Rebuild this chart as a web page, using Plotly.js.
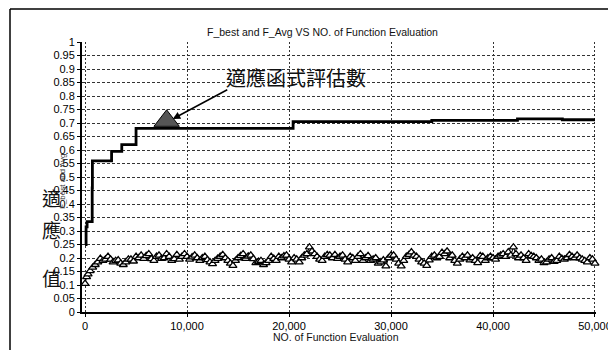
<!DOCTYPE html>
<html>
<head>
<meta charset="utf-8">
<script src="https://cdn.plot.ly/plotly-3.0.1.min.js"></script>
<style>html,body{margin:0;padding:0;background:#fff;}#chart{width:608px;height:350px;}</style>
</head>
<body>
<div id="chart"></div>
<script>
// F_best (best fitness so far) step curve
var bestX = [0, 100, 200, 700, 720, 2600, 3600, 5000, 20400, 34000, 42400, 46800, 50000];
var bestY = [0.25, 0.315, 0.335, 0.46, 0.56, 0.595, 0.62, 0.68, 0.705, 0.71, 0.715, 0.712, 0.712];

// F_avg (average fitness) noisy curve
var avgX = [0, 150, 300, 500, 750, 1000, 1250, 1500, 1750,
  2000, 2250, 2500, 2750, 3000, 3250, 3500, 3750,
  4000, 4250, 4500, 4750, 5000, 5250, 5500, 5750,
  6000, 6250, 6500, 6750, 7000, 7250, 7500, 7750,
  8000, 8250, 8500, 8750, 9000, 9250, 9500, 9750,
  10000, 10250, 10500, 10750, 11000, 11250, 11500, 11750,
  12000, 12250, 12500, 12750, 13000, 13250, 13500, 13750,
  14000, 14250, 14500, 14750, 15000, 15250, 15500, 15750,
  16000, 16250, 16500, 16750, 17000, 17250, 17500, 17750,
  18000, 18250, 18500, 18750, 19000, 19250, 19500, 19750,
  20000, 20250, 20500, 20750, 21000, 21250, 21500, 21750,
  22000, 22250, 22500, 22750, 23000, 23250, 23500, 23750,
  24000, 24250, 24500, 24750, 25000, 25250, 25500, 25750,
  26000, 26250, 26500, 26750, 27000, 27250, 27500, 27750,
  28000, 28250, 28500, 28750, 29000, 29250, 29500, 29750,
  30000, 30250, 30500, 30750, 31000, 31250, 31500, 31750,
  32000, 32250, 32500, 32750, 33000, 33250, 33500, 33750,
  34000, 34250, 34500, 34750, 35000, 35250, 35500, 35750,
  36000, 36250, 36500, 36750, 37000, 37250, 37500, 37750,
  38000, 38250, 38500, 38750, 39000, 39250, 39500, 39750,
  40000, 40250, 40500, 40750, 41000, 41250, 41500, 41750,
  42000, 42250, 42500, 42750, 43000, 43250, 43500, 43750,
  44000, 44250, 44500, 44750, 45000, 45250, 45500, 45750,
  46000, 46250, 46500, 46750, 47000, 47250, 47500, 47750,
  48000, 48250, 48500, 48750, 49000, 49250, 49500, 49750,
  50000];
var avgY = [0.105, 0.13, 0.14, 0.152, 0.165, 0.175, 0.185, 0.198, 0.19,
  0.195, 0.205, 0.195, 0.185, 0.19, 0.192, 0.18, 0.175,
  0.185, 0.195, 0.195, 0.188, 0.205, 0.2, 0.21, 0.198,
  0.208, 0.215, 0.197, 0.19, 0.205, 0.21, 0.198, 0.2,
  0.215, 0.205, 0.19, 0.197, 0.212, 0.195, 0.205, 0.215,
  0.205, 0.195, 0.203, 0.21, 0.2, 0.19, 0.2, 0.205,
  0.193, 0.185, 0.178, 0.19, 0.198, 0.205, 0.212, 0.2,
  0.19, 0.18, 0.172, 0.19, 0.2, 0.208, 0.215, 0.198,
  0.206, 0.21, 0.197, 0.182, 0.187, 0.19, 0.175, 0.182,
  0.19, 0.205, 0.198, 0.19, 0.205, 0.2, 0.207, 0.21,
  0.195, 0.185, 0.2, 0.195, 0.185, 0.2, 0.21, 0.215,
  0.24, 0.225, 0.215, 0.205, 0.195, 0.19, 0.205, 0.212,
  0.21, 0.2, 0.212, 0.198, 0.205, 0.21, 0.195, 0.185,
  0.205, 0.2, 0.19, 0.205, 0.215, 0.19, 0.2, 0.208,
  0.19, 0.195, 0.2, 0.18, 0.185, 0.192, 0.17, 0.2,
  0.21, 0.21, 0.195, 0.18, 0.17, 0.19, 0.205, 0.212,
  0.222, 0.21, 0.205, 0.195, 0.185, 0.18, 0.172, 0.192,
  0.205, 0.21, 0.2, 0.205, 0.22, 0.215, 0.225, 0.2,
  0.21, 0.19, 0.18, 0.195, 0.205, 0.2, 0.21, 0.192,
  0.2, 0.19, 0.182, 0.208, 0.205, 0.19, 0.2, 0.205,
  0.2, 0.195, 0.205, 0.21, 0.215, 0.205, 0.222, 0.21,
  0.24, 0.215, 0.2, 0.21, 0.2, 0.19, 0.215, 0.208,
  0.205, 0.2, 0.19, 0.195, 0.182, 0.185, 0.195, 0.2,
  0.187, 0.19, 0.205, 0.198, 0.195, 0.2, 0.212, 0.205,
  0.2, 0.21, 0.2, 0.195, 0.19, 0.185, 0.2, 0.195,
  0.18];

// highlighted marker pointed at by the annotation
var markX = [8000];
var markY = [0.708];

var xTicks = [0, 10000, 20000, 30000, 40000, 50000];
var xTickText = ["0", "10,000", "20,000", "30,000", "40,000", "50,000"];

var chartTitle = "F_best and F_Avg VS NO. of Function Evaluation";
var xTitle = "NO. of Function Evaluation";
var yTitle = "F_best and Avg";
var noteText = "適應函式評估數";
var sideChars = ["適", "應", "值"];

// pixel helpers for paper placement (plot area: x 82..596, y 42..312)
function px(p) { return (p - 82) / 514; }
function py(p) { return (312 - p) / 270; }

var traces = [
  {
    x: avgX, y: avgY, type: "scatter", mode: "lines+markers",
    line: {color: "#000", width: 1},
    marker: {symbol: "triangle-up", size: 7, color: "#fff", line: {color: "#000", width: 1.3}},
    hoverinfo: "skip", cliponaxis: false
  },
  {
    x: bestX, y: bestY, type: "scatter", mode: "lines",
    line: {color: "#000", width: 2.8, shape: "hv"},
    hoverinfo: "skip"
  },
  {
    x: markX, y: markY, type: "scatter", mode: "markers",
    marker: {symbol: "triangle-up", size: 22, color: "#555", line: {color: "#000", width: 1}},
    hoverinfo: "skip"
  }
];

var annotations = [
  {xref: "paper", yref: "paper", x: px(322), y: py(32), text: chartTitle, showarrow: false,
   font: {family: "Liberation Sans, Arial, sans-serif", size: 10.5, color: "#111"}, xanchor: "center", yanchor: "middle"},
  {xref: "paper", yref: "paper", x: px(336), y: py(337), text: xTitle, showarrow: false,
   font: {family: "Liberation Sans, Arial, sans-serif", size: 10.5, color: "#111"}, xanchor: "center", yanchor: "middle"},
  {xref: "paper", yref: "paper", x: px(62), y: py(182), text: yTitle, showarrow: false, textangle: -90,
   font: {family: "Liberation Sans, Arial, sans-serif", size: 8, color: "#333"}, xanchor: "center", yanchor: "middle"},
  {xref: "paper", yref: "paper", x: px(296), y: py(77), text: noteText, showarrow: false,
   font: {family: "Noto Sans CJK TC, sans-serif", size: 20, color: "#111"}, xanchor: "center", yanchor: "middle"},
  {x: 8600, y: 0.715, xref: "x", yref: "y", text: "", showarrow: true, ax: 56, ay: -30,
   arrowhead: 2, arrowsize: 1, arrowwidth: 1.5, arrowcolor: "#000"},
  {xref: "paper", yref: "paper", x: px(40), y: py(197), text: sideChars[0], showarrow: false,
   font: {family: "Noto Sans CJK TC, sans-serif", size: 19, color: "#111"}},
  {xref: "paper", yref: "paper", x: px(40), y: py(245), text: sideChars[1], showarrow: false,
   font: {family: "Noto Sans CJK TC, sans-serif", size: 19, color: "#111"}},
  {xref: "paper", yref: "paper", x: px(40), y: py(293), text: sideChars[2], showarrow: false,
   font: {family: "Noto Sans CJK TC, sans-serif", size: 19, color: "#111"}}
];

var shapes = [
  {type: "line", xref: "paper", yref: "paper", x0: px(10), x1: px(608), y0: py(9), y1: py(9),
   line: {color: "#000", width: 1.5}},
  {type: "line", xref: "paper", yref: "paper", x0: px(10), x1: px(10), y0: py(9), y1: py(350),
   line: {color: "#000", width: 1.5}}
];

var layout = {
  width: 608, height: 350,
  margin: {l: 82, r: 12, t: 42, b: 38},
  paper_bgcolor: "#fff", plot_bgcolor: "#fff",
  showlegend: false,
  font: {family: "Liberation Sans, Arial, sans-serif", size: 11, color: "#000"},
  xaxis: {
    range: [-300, 50100], tickvals: xTicks, ticktext: xTickText,
    showgrid: true, gridcolor: "#333", gridwidth: 1, griddash: "2px,2px",
    zeroline: false, showline: true, linecolor: "#000", linewidth: 2,
    ticks: "outside", ticklen: 3, tickcolor: "#000",
    ticklabeloverflow: "allow",
    tickfont: {size: 11, color: "#000"}
  },
  yaxis: {
    range: [0, 1], dtick: 0.05, tick0: 0,
    showgrid: true, gridcolor: "#333", gridwidth: 1, griddash: "3px,2px",
    zeroline: false, showline: true, linecolor: "#000", linewidth: 2,
    ticks: "outside", ticklen: 3, tickcolor: "#000",
    tickfont: {size: 11, color: "#000"}
  },
  annotations: annotations,
  shapes: shapes
};

Plotly.newPlot("chart", traces, layout, {staticPlot: true, displayModeBar: false});
</script>
</body>
</html>
